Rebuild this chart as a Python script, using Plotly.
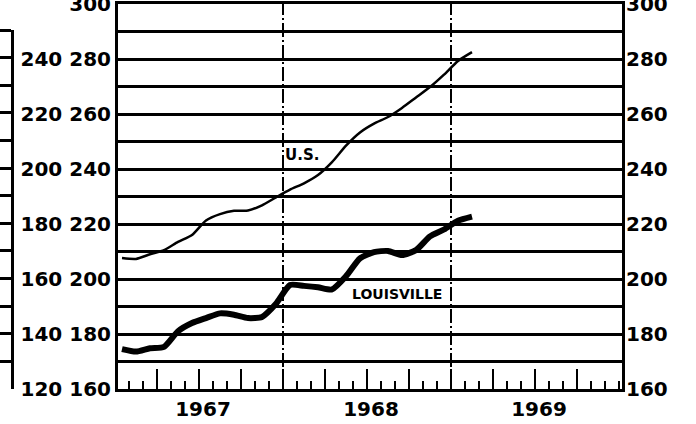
import plotly.graph_objects as go

# Months since Jan 1967 (mid-month points), Jan 1967 .. Feb 1969
months = [i + 0.5 for i in range(26)]

us = [207.6, 207.3, 209.0, 210.5, 213.5, 216.0, 221.3, 223.6, 224.8, 224.9,
      226.8, 229.7, 232.5, 234.8, 237.8, 242.5, 248.5, 253.3, 256.5, 258.9,
      262.2, 266.0, 269.8, 274.3, 279.3, 282.5]

louisville = [174.5, 173.6, 174.8, 175.3, 181.0, 184.0, 185.8, 187.5, 187.0, 185.8,
              186.2, 191.0, 197.8, 197.5, 197.0, 196.2, 201.0, 207.5, 209.8, 210.2,
              208.7, 210.5, 215.5, 218.0, 221.2, 222.7]

grid_vals = list(range(160, 301, 10))
left_labels = {160: "120 160", 180: "140 180", 200: "160 200", 220: "180 220",
               240: "200 240", 260: "220 260", 280: "240 280", 300: "300"}
right_labels = {v: str(v) for v in range(160, 301, 20)}
outer_ticks = list(range(170, 291, 10))

year_ticks = [3, 6, 9, 12, 15, 18, 21, 24, 27, 30, 33]
year_labels = {6: "1967", 18: "1968", 30: "1969"}
year_lines = [12, 24]

font_b = dict(family="DejaVu Sans", size=20, color="black", weight="bold")

fig = go.Figure()
fig.add_trace(go.Scatter(x=months, y=us, mode="lines",
                         line=dict(color="black", width=2.5, shape="spline", smoothing=0.6),
                         showlegend=False, hoverinfo="skip"))
fig.add_trace(go.Scatter(x=months, y=louisville, mode="lines",
                         line=dict(color="black", width=6, shape="spline", smoothing=0.6),
                         showlegend=False, hoverinfo="skip"))
# dummy traces to activate secondary axes
fig.add_trace(go.Scatter(x=[None], y=[None], yaxis="y2", showlegend=False, hoverinfo="skip"))
fig.add_trace(go.Scatter(x=[None], y=[None], yaxis="y3", showlegend=False, hoverinfo="skip"))

for xv in year_lines:
    fig.add_shape(type="line", xref="x", yref="paper", x0=xv, x1=xv, y0=0, y1=1,
                  line=dict(color="black", width=2, dash="14px,3px,2px,3px"))

fig.add_annotation(x=13.36, y=245.1, xref="x", yref="y", text="U.S.", showarrow=False,
                   font=dict(family="DejaVu Sans", size=15, color="black", weight="bold"))
fig.add_annotation(x=20.14, y=194.7, xref="x", yref="y", text="LOUISVILLE", showarrow=False,
                   font=dict(family="DejaVu Sans", size=14, color="black", weight="bold"))

W = 696
L, R, T, B = 0, 74, 4, 35
pw = W - L - R

fig.update_layout(
    template="none",
    width=W, height=424,
    margin=dict(l=L, r=R, t=T, b=B, pad=0),
    paper_bgcolor="white", plot_bgcolor="rgba(0,0,0,0)",
    showlegend=False,
    xaxis=dict(
        domain=[118 / pw, 1], range=[0.214, 36.214], automargin=False,
        tickmode="array", tickvals=year_ticks,
        ticktext=[year_labels.get(v, "") for v in year_ticks],
        ticks="inside", ticklen=20, tickwidth=2, tickcolor="black",
        tickfont=font_b, ticklabelstandoff=0, ticklabelshift=4,
        minor=dict(ticks="inside", ticklen=8, tickwidth=2, tickcolor="black",
                   dtick=1, tick0=0, showgrid=False),
        showgrid=False, zeroline=False,
        showline=True, linecolor="black", linewidth=3, mirror=True,
    ),
    yaxis=dict(
        range=[160, 300], automargin=False,
        tickmode="array", tickvals=grid_vals,
        ticktext=[left_labels.get(v, "") for v in grid_vals],
        ticks="", tickfont=font_b, ticklabelstandoff=0, ticklabeloverflow="allow",
        showgrid=True, gridcolor="black", gridwidth=2.5,
        zeroline=False, showline=True, linecolor="black", linewidth=3,
    ),
    yaxis2=dict(
        range=[160, 300], overlaying="y", side="right", automargin=False,
        tickmode="array", tickvals=list(right_labels.keys()),
        ticktext=list(right_labels.values()),
        ticks="", tickfont=font_b, ticklabelstandoff=-3, ticklabeloverflow="allow",
        showgrid=False, zeroline=False,
        showline=True, linecolor="black", linewidth=3,
    ),
    yaxis3=dict(
        range=[160, 290], domain=[0, (389 - 30) / 385], anchor="free",
        position=12 / pw, side="left", automargin=False,
        tickmode="array", tickvals=outer_ticks, showticklabels=False,
        ticks="outside", ticklen=14, tickwidth=2.5, tickcolor="black",
        showgrid=False, zeroline=False,
        showline=True, linecolor="black", linewidth=3,
    ),
)

fig.write_html("out.html", config={"displayModeBar": False},
               post_script="document.body.style.margin='0';")
